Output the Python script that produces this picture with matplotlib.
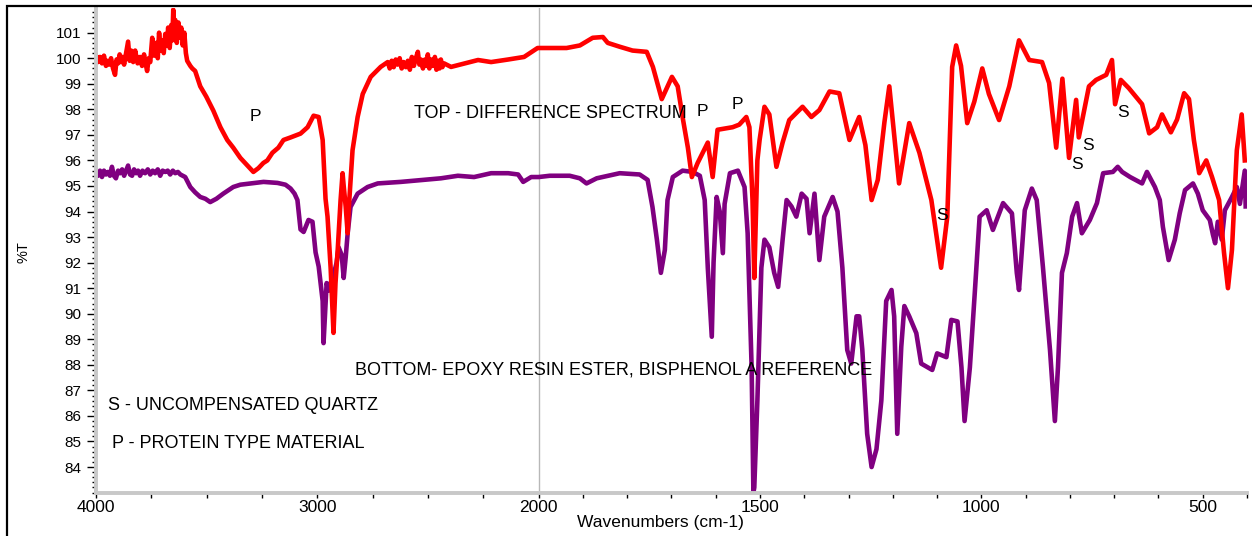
import numpy as np
import matplotlib
matplotlib.use("Agg")
import matplotlib.pyplot as plt
from matplotlib.patches import Rectangle
from matplotlib.ticker import FixedLocator, MultipleLocator

plt.rcParams['font.family'] = ['Liberation Sans', 'DejaVu Sans']

# top trace: difference spectrum (wavenumber, %T)
top_wn = [4000, 3991, 3982, 3973, 3964, 3955, 3950, 3941, 3932, 3923, 3914, 3907,
          3900, 3893, 3887, 3880, 3873, 3864, 3855, 3848, 3841, 3832, 3823, 3812,
          3801, 3792, 3783, 3776, 3769, 3762, 3755, 3750, 3746, 3737, 3728, 3721,
          3715, 3708, 3701, 3694, 3687, 3680, 3674, 3667, 3660, 3655, 3651, 3646,
          3642, 3635, 3628, 3621, 3615, 3608, 3601, 3594, 3588, 3581, 3574, 3565,
          3552, 3529, 3502, 3470, 3438, 3407, 3380, 3348, 3316, 3289, 3266, 3244,
          3226, 3203, 3176, 3153, 3121, 3076, 3044, 3017, 2994, 2976, 2963, 2954,
          2940, 2931, 2927, 2918, 2908, 2895, 2886, 2881, 2872, 2863, 2859, 2841,
          2818, 2795, 2759, 2714, 2682, 2673, 2664, 2655, 2646, 2637, 2628, 2619,
          2610, 2600, 2591, 2582, 2573, 2564, 2555, 2546, 2539, 2532, 2523, 2514,
          2505, 2501, 2494, 2487, 2478, 2469, 2462, 2455, 2448, 2442, 2435, 2428,
          2396, 2274, 2215, 2138, 2066, 2005,
          1975, 1937, 1907, 1878, 1855, 1844, 1817, 1788, 1756, 1742, 1722, 1699,
          1686, 1675, 1663, 1654, 1641, 1618, 1607, 1596, 1562, 1547, 1531, 1524,
          1517, 1513, 1506, 1501, 1490, 1479, 1463, 1449, 1434, 1404, 1384, 1366,
          1343, 1321, 1298, 1276, 1262, 1248, 1234, 1219, 1208, 1197, 1186, 1163,
          1140, 1113, 1091, 1077, 1066, 1057, 1046, 1032, 1016, 998, 983, 960,
          937, 915, 892, 863, 847, 831, 817, 802, 786, 780, 757, 741,
          718, 705, 698, 685, 667, 637, 621, 603, 592, 572, 558, 542,
          531, 520, 508, 492, 479, 463, 452, 443, 434, 423, 412, 405]
top_t = [100.1, 99.85, 100.05, 99.8, 100.1, 99.7, 99.9, 99.75, 100.0, 99.6, 99.35, 99.95,
         99.8, 100.15, 99.85, 100.05, 99.75, 100.2, 100.65, 99.9, 100.3, 99.85, 100.3, 99.8,
         100.05, 99.7, 100.15, 99.8, 99.5, 100.0, 99.85, 100.4, 100.8, 100.1, 100.6, 100.0,
         101.0, 100.3, 100.7, 100.2, 100.95, 100.5, 101.2, 100.4, 101.3, 100.7, 101.9, 100.9,
         101.5, 100.6, 101.4, 100.8, 101.2, 100.5, 101.0, 100.2, 99.9, 99.8, 99.7, 99.6,
         99.5, 98.9, 98.5, 97.95, 97.3, 96.8, 96.5, 96.1, 95.8, 95.55, 95.7, 95.9,
         96.0, 96.3, 96.5, 96.8, 96.9, 97.05, 97.3, 97.75, 97.7, 96.8, 94.5, 93.8,
         91.8, 90.0, 89.25, 91.2, 92.5, 94.45, 95.5, 95.0, 94.2, 93.15, 94.0, 96.4,
         97.7, 98.6, 99.27, 99.66, 99.85, 99.6, 99.9, 99.65, 99.95, 99.75, 100.0, 99.6,
         99.85, 99.65, 99.9, 99.55, 100.05, 99.7, 100.0, 100.25, 99.75, 99.95, 99.6, 99.95,
         99.7, 100.15, 99.6, 99.95, 99.7, 100.05, 99.55, 99.9, 99.6, 99.95, 99.65, 99.8,
         99.66, 99.93, 99.85, 99.95, 100.05, 100.4,
         100.4, 100.4, 100.5, 100.8, 100.83, 100.6, 100.45, 100.3, 100.25, 99.66, 98.4, 99.27,
         98.9, 97.7, 96.5, 95.35, 95.9, 96.7, 95.35, 97.2, 97.3, 97.4, 97.7, 97.3,
         94.45, 91.4, 96.0, 96.8, 98.1, 97.8, 95.75, 96.7, 97.58, 98.1, 97.7, 97.97,
         98.7, 98.63, 96.8, 97.7, 96.6, 94.45, 95.24, 97.5, 98.9, 97.0, 95.1, 97.46,
         96.3, 94.45, 91.8, 93.8, 99.66, 100.5, 99.7, 97.46, 98.3, 99.6, 98.6, 97.58,
         98.9, 100.7, 99.93, 99.85, 99.03, 96.5, 99.2, 96.1, 98.37, 96.9, 98.9, 99.15,
         99.35, 99.93, 98.2, 99.15, 98.83, 98.2, 97.06, 97.3, 97.8, 97.1, 97.6, 98.63,
         98.4, 96.8, 95.5, 96.0, 95.35, 94.45, 92.4, 91.0, 92.5, 96.4, 97.8, 96.0]

# bottom trace: epoxy resin ester reference (wavenumber, %T)
bot_wn = [4000, 3991, 3982, 3973, 3964, 3955, 3946, 3937, 3928, 3919, 3910, 3900,
          3891, 3882, 3873, 3864, 3855, 3846, 3837, 3828, 3819, 3810, 3801, 3790,
          3778, 3766, 3755, 3744, 3733, 3721, 3710, 3699, 3687, 3676, 3665, 3653,
          3642, 3630, 3619, 3608, 3597, 3574, 3552, 3529, 3506, 3484, 3456, 3425,
          3380, 3348, 3302, 3243, 3180, 3144, 3121, 3103, 3090, 3076, 3062, 3040,
          3022, 3008, 2994, 2976, 2972, 2958, 2949, 2940, 2927, 2913, 2904, 2890,
          2881, 2872, 2863, 2850, 2818, 2773, 2727, 2623, 2519, 2442, 2365, 2292,
          2215, 2138, 2093, 2070, 2034, 2000,
          1975, 1930, 1907, 1892, 1869, 1817, 1772, 1754, 1743, 1733, 1724, 1715,
          1709, 1697, 1675, 1652, 1636, 1625, 1618, 1609, 1605, 1598, 1591, 1584,
          1580, 1568, 1550, 1535, 1528, 1519, 1515, 1513, 1506, 1497, 1490, 1479,
          1468, 1459, 1449, 1440, 1429, 1418, 1406, 1395, 1388, 1377, 1366, 1355,
          1336, 1325, 1314, 1303, 1294, 1282, 1276, 1269, 1258, 1248, 1237, 1226,
          1215, 1203, 1197, 1190, 1181, 1174, 1163, 1147, 1136, 1111, 1100, 1079,
          1068, 1054, 1045, 1038, 1026, 1015, 1004, 988, 974, 951, 931, 920,
          915, 902, 886, 875, 861, 845, 834, 827, 818, 807, 795, 784,
          773, 755, 739, 725, 703, 692, 682, 664, 637, 626, 608, 597,
          590, 577, 563, 552, 540, 522, 511, 500, 484, 477, 472, 466,
          457, 450, 434, 423, 416, 405, 403]
bot_t = [95.55, 95.4, 95.6, 95.35, 95.6, 95.45, 95.55, 95.4, 95.75, 95.4, 95.3, 95.6,
         95.5, 95.65, 95.4, 95.6, 95.8, 95.45, 95.4, 95.65, 95.5, 95.6, 95.4, 95.6,
         95.5, 95.65, 95.45, 95.6, 95.5, 95.65, 95.4, 95.6, 95.55, 95.6, 95.45, 95.6,
         95.5, 95.55, 95.45, 95.4, 95.35, 94.96, 94.75, 94.57, 94.5, 94.37, 94.5, 94.7,
         94.96, 95.05, 95.1, 95.16, 95.12, 95.05, 94.9, 94.7, 94.45, 93.3, 93.2, 93.67,
         93.6, 92.4, 91.85, 90.5, 88.85, 91.2, 90.9, 91.2, 91.5, 92.0, 92.6, 92.3,
         91.4, 92.2, 93.15, 94.18, 94.7, 94.96, 95.1, 95.16, 95.24, 95.3, 95.4, 95.35,
         95.5, 95.5, 95.45, 95.16, 95.35, 95.35,
         95.4, 95.4, 95.3, 95.1, 95.3, 95.5, 95.45, 95.24, 94.18, 92.9, 91.6, 92.5,
         94.45, 95.35, 95.6, 95.55, 95.4, 94.45, 91.8, 89.1, 92.0, 94.57, 94.0, 92.37,
         94.3, 95.5, 95.6, 94.96, 93.15, 87.9, 83.0, 83.2, 86.6, 91.8, 92.9, 92.6,
         91.6, 91.05, 92.9, 94.45, 94.2, 93.8, 94.7, 94.5, 93.15, 94.7, 92.1, 93.8,
         94.57, 94.0, 91.8, 88.58, 88.05, 89.9, 89.9, 88.6, 85.3, 84.0, 84.7, 86.6,
         90.5, 90.93, 89.9, 85.3, 88.7, 90.3, 89.9, 89.24, 88.05, 87.8, 88.45, 88.3,
         89.76, 89.7, 87.9, 85.8, 87.9, 90.8, 93.8, 94.05, 93.28, 94.33, 93.93, 91.6,
         90.93, 94.05, 94.9, 94.45, 91.83, 88.58, 85.8, 87.9, 91.6, 92.37, 93.8, 94.33,
         93.15, 93.67, 94.33, 95.5, 95.55, 95.75, 95.55, 95.35, 95.1, 95.55, 94.96, 94.45,
         93.4, 92.1, 92.9, 93.93, 94.84, 95.1, 94.7, 94.05, 93.67, 93.1, 92.76, 93.6,
         92.9, 94.05, 94.57, 94.96, 94.3, 95.6, 94.2]

x_major = [4000, 3000, 2000, 1500, 1000, 500]
x_minor = [3750, 3500, 3250, 2750, 2500, 2250] + \
          [w for w in range(1900, 399, -100) if w not in (1500, 1000, 500)]


# spectrometer style axis: 2000-400 region expanded x2
def fwd(x):
    x = np.asarray(x, dtype=float)
    return np.where(x > 2000, 2000 + (x - 2000) / 2.0, x)


def inv(u):
    u = np.asarray(u, dtype=float)
    return np.where(u > 2000, 2000 + (u - 2000) * 2.0, u)


W, H = 1252, 536
fig = plt.figure(figsize=(W / 100, H / 100), dpi=100)
ax = fig.add_axes([96 / W, 1 - 492.6 / H, (1247 - 96) / W, (492.6 - 8.4) / H])
ax.set_xscale('function', functions=(fwd, inv))
ax.set_xlim(4000, 400)
ax.set_ylim(83.0, 101.95)

ax.axvline(2000, color='#b8b8b8', lw=1, zorder=0)
ax.plot(bot_wn, bot_t, color='#800080', lw=3.3)
ax.plot(top_wn, top_t, color='#ff0000', lw=3.3)

for s in ('top', 'right'):
    ax.spines[s].set_visible(False)
for s in ('left', 'bottom'):
    ax.spines[s].set_color('#c8c8c8')
    ax.spines[s].set_linewidth(2.8)

ax.xaxis.set_major_locator(FixedLocator(x_major))
ax.xaxis.set_minor_locator(FixedLocator(x_minor))
ax.set_xticklabels([str(v) for v in x_major])
ax.set_yticks(range(84, 102))
ax.yaxis.set_minor_locator(MultipleLocator(0.2))
ax.tick_params(axis='y', which='major', length=6.5, width=1, color='black',
               labelsize=11, pad=4)
ax.tick_params(axis='y', which='minor', length=3, width=1, color='black')
ax.tick_params(axis='x', which='both', length=3.5, width=1, color='black',
               labelsize=12.5, pad=2)

fs = 12.5
big = 13
ax.text(3280, 97.7, 'P', ha='center', va='center', fontsize=fs)
ax.text(2564, 97.82, 'TOP - DIFFERENCE SPECTRUM', ha='left', va='center', fontsize=big)
ax.text(1631, 97.93, 'P', ha='center', va='center', fontsize=fs)
ax.text(1551, 98.2, 'P', ha='center', va='center', fontsize=fs)
ax.text(1089, 93.83, 'S', ha='center', va='center', fontsize=fs)
ax.text(784, 95.86, 'S', ha='center', va='center', fontsize=fs)
ax.text(759, 96.6, 'S', ha='center', va='center', fontsize=fs)
ax.text(680, 97.86, 'S', ha='center', va='center', fontsize=fs)
ax.text(2831, 87.79, 'BOTTOM- EPOXY RESIN ESTER, BISPHENOL A REFERENCE',
        ha='left', va='center', fontsize=big)
ax.text(3946, 86.42, 'S - UNCOMPENSATED QUARTZ', ha='left', va='center', fontsize=big)
ax.text(3928, 84.94, 'P - PROTEIN TYPE MATERIAL', ha='left', va='center', fontsize=big)

fig.text(660 / W, 1 - 523 / H, 'Wavenumbers (cm-1)', ha='center', va='center', fontsize=fs)
fig.text(24 / W, 1 - 252 / H, '%T', rotation=90, ha='center', va='center', fontsize=10.5)

# outer frame, cut off at right and bottom like the original screenshot
fig.add_artist(Rectangle((7 / W, -0.1), 1.2, 1 - 6 / H + 0.1, transform=fig.transFigure,
                         fill=False, lw=1.6, ec='black'))

fig.savefig('out.png', dpi=100)
